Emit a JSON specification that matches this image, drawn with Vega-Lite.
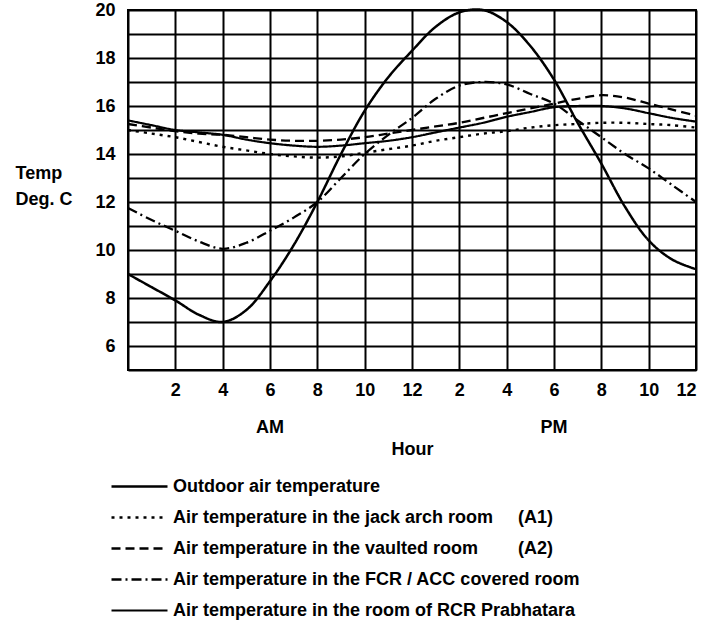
{
  "$schema": "https://vega.github.io/schema/vega-lite/v6.json",
  "width": 568,
  "height": 360,
  "autosize": {"type": "none"},
  "padding": {"left": 128, "top": 10, "right": 12, "bottom": 256},
  "background": "white",
  "config": {
    "font": "Liberation Sans",
    "view": {"stroke": "black", "strokeWidth": 2},
    "axis": {
      "labelFont": "Liberation Sans", "labelFontSize": 18, "labelFontWeight": "bold", "labelColor": "black",
      "titleFont": "Liberation Sans", "titleFontSize": 18, "titleFontWeight": "bold", "titleColor": "black",
      "gridColor": "black", "gridWidth": 2, "gridOpacity": 1, "ticks": false, "domain": false
    }
  },
  "datasets": {
    "temps": [
      {"hour": 0, "series": "Outdoor air temperature", "temp": 9.0},
      {"hour": 1, "series": "Outdoor air temperature", "temp": 8.45},
      {"hour": 2, "series": "Outdoor air temperature", "temp": 7.9},
      {"hour": 3, "series": "Outdoor air temperature", "temp": 7.3},
      {"hour": 4, "series": "Outdoor air temperature", "temp": 7.0},
      {"hour": 5, "series": "Outdoor air temperature", "temp": 7.5},
      {"hour": 6, "series": "Outdoor air temperature", "temp": 8.7},
      {"hour": 7, "series": "Outdoor air temperature", "temp": 10.2},
      {"hour": 8, "series": "Outdoor air temperature", "temp": 12.0},
      {"hour": 9, "series": "Outdoor air temperature", "temp": 14.0},
      {"hour": 10, "series": "Outdoor air temperature", "temp": 15.8},
      {"hour": 11, "series": "Outdoor air temperature", "temp": 17.2},
      {"hour": 12, "series": "Outdoor air temperature", "temp": 18.3},
      {"hour": 13, "series": "Outdoor air temperature", "temp": 19.3},
      {"hour": 14, "series": "Outdoor air temperature", "temp": 19.9},
      {"hour": 15, "series": "Outdoor air temperature", "temp": 20.0},
      {"hour": 16, "series": "Outdoor air temperature", "temp": 19.5},
      {"hour": 17, "series": "Outdoor air temperature", "temp": 18.5},
      {"hour": 18, "series": "Outdoor air temperature", "temp": 17.1},
      {"hour": 19, "series": "Outdoor air temperature", "temp": 15.3},
      {"hour": 20, "series": "Outdoor air temperature", "temp": 13.6},
      {"hour": 21, "series": "Outdoor air temperature", "temp": 11.8},
      {"hour": 22, "series": "Outdoor air temperature", "temp": 10.4},
      {"hour": 23, "series": "Outdoor air temperature", "temp": 9.6},
      {"hour": 24, "series": "Outdoor air temperature", "temp": 9.2},

      {"hour": 0, "series": "Air temperature in the jack arch room\u00a0\u00a0\u00a0\u00a0\u00a0(A1)", "temp": 15.0},
      {"hour": 1, "series": "Air temperature in the jack arch room\u00a0\u00a0\u00a0\u00a0\u00a0(A1)", "temp": 14.85},
      {"hour": 2, "series": "Air temperature in the jack arch room\u00a0\u00a0\u00a0\u00a0\u00a0(A1)", "temp": 14.7},
      {"hour": 3, "series": "Air temperature in the jack arch room\u00a0\u00a0\u00a0\u00a0\u00a0(A1)", "temp": 14.5},
      {"hour": 4, "series": "Air temperature in the jack arch room\u00a0\u00a0\u00a0\u00a0\u00a0(A1)", "temp": 14.3},
      {"hour": 5, "series": "Air temperature in the jack arch room\u00a0\u00a0\u00a0\u00a0\u00a0(A1)", "temp": 14.15},
      {"hour": 6, "series": "Air temperature in the jack arch room\u00a0\u00a0\u00a0\u00a0\u00a0(A1)", "temp": 14.0},
      {"hour": 7, "series": "Air temperature in the jack arch room\u00a0\u00a0\u00a0\u00a0\u00a0(A1)", "temp": 13.9},
      {"hour": 8, "series": "Air temperature in the jack arch room\u00a0\u00a0\u00a0\u00a0\u00a0(A1)", "temp": 13.85},
      {"hour": 9, "series": "Air temperature in the jack arch room\u00a0\u00a0\u00a0\u00a0\u00a0(A1)", "temp": 13.9},
      {"hour": 10, "series": "Air temperature in the jack arch room\u00a0\u00a0\u00a0\u00a0\u00a0(A1)", "temp": 14.05},
      {"hour": 11, "series": "Air temperature in the jack arch room\u00a0\u00a0\u00a0\u00a0\u00a0(A1)", "temp": 14.2},
      {"hour": 12, "series": "Air temperature in the jack arch room\u00a0\u00a0\u00a0\u00a0\u00a0(A1)", "temp": 14.35},
      {"hour": 13, "series": "Air temperature in the jack arch room\u00a0\u00a0\u00a0\u00a0\u00a0(A1)", "temp": 14.55},
      {"hour": 14, "series": "Air temperature in the jack arch room\u00a0\u00a0\u00a0\u00a0\u00a0(A1)", "temp": 14.7},
      {"hour": 15, "series": "Air temperature in the jack arch room\u00a0\u00a0\u00a0\u00a0\u00a0(A1)", "temp": 14.85},
      {"hour": 16, "series": "Air temperature in the jack arch room\u00a0\u00a0\u00a0\u00a0\u00a0(A1)", "temp": 14.95},
      {"hour": 17, "series": "Air temperature in the jack arch room\u00a0\u00a0\u00a0\u00a0\u00a0(A1)", "temp": 15.1},
      {"hour": 18, "series": "Air temperature in the jack arch room\u00a0\u00a0\u00a0\u00a0\u00a0(A1)", "temp": 15.2},
      {"hour": 19, "series": "Air temperature in the jack arch room\u00a0\u00a0\u00a0\u00a0\u00a0(A1)", "temp": 15.25},
      {"hour": 20, "series": "Air temperature in the jack arch room\u00a0\u00a0\u00a0\u00a0\u00a0(A1)", "temp": 15.3},
      {"hour": 21, "series": "Air temperature in the jack arch room\u00a0\u00a0\u00a0\u00a0\u00a0(A1)", "temp": 15.3},
      {"hour": 22, "series": "Air temperature in the jack arch room\u00a0\u00a0\u00a0\u00a0\u00a0(A1)", "temp": 15.25},
      {"hour": 23, "series": "Air temperature in the jack arch room\u00a0\u00a0\u00a0\u00a0\u00a0(A1)", "temp": 15.2},
      {"hour": 24, "series": "Air temperature in the jack arch room\u00a0\u00a0\u00a0\u00a0\u00a0(A1)", "temp": 15.1},

      {"hour": 0, "series": "Air temperature in the vaulted room\u00a0\u00a0\u00a0\u00a0\u00a0\u00a0\u00a0\u00a0(A2)", "temp": 15.25},
      {"hour": 1, "series": "Air temperature in the vaulted room\u00a0\u00a0\u00a0\u00a0\u00a0\u00a0\u00a0\u00a0(A2)", "temp": 15.1},
      {"hour": 2, "series": "Air temperature in the vaulted room\u00a0\u00a0\u00a0\u00a0\u00a0\u00a0\u00a0\u00a0(A2)", "temp": 14.95},
      {"hour": 3, "series": "Air temperature in the vaulted room\u00a0\u00a0\u00a0\u00a0\u00a0\u00a0\u00a0\u00a0(A2)", "temp": 14.85},
      {"hour": 4, "series": "Air temperature in the vaulted room\u00a0\u00a0\u00a0\u00a0\u00a0\u00a0\u00a0\u00a0(A2)", "temp": 14.8},
      {"hour": 5, "series": "Air temperature in the vaulted room\u00a0\u00a0\u00a0\u00a0\u00a0\u00a0\u00a0\u00a0(A2)", "temp": 14.7},
      {"hour": 6, "series": "Air temperature in the vaulted room\u00a0\u00a0\u00a0\u00a0\u00a0\u00a0\u00a0\u00a0(A2)", "temp": 14.6},
      {"hour": 7, "series": "Air temperature in the vaulted room\u00a0\u00a0\u00a0\u00a0\u00a0\u00a0\u00a0\u00a0(A2)", "temp": 14.55},
      {"hour": 8, "series": "Air temperature in the vaulted room\u00a0\u00a0\u00a0\u00a0\u00a0\u00a0\u00a0\u00a0(A2)", "temp": 14.55},
      {"hour": 9, "series": "Air temperature in the vaulted room\u00a0\u00a0\u00a0\u00a0\u00a0\u00a0\u00a0\u00a0(A2)", "temp": 14.6},
      {"hour": 10, "series": "Air temperature in the vaulted room\u00a0\u00a0\u00a0\u00a0\u00a0\u00a0\u00a0\u00a0(A2)", "temp": 14.7},
      {"hour": 11, "series": "Air temperature in the vaulted room\u00a0\u00a0\u00a0\u00a0\u00a0\u00a0\u00a0\u00a0(A2)", "temp": 14.85},
      {"hour": 12, "series": "Air temperature in the vaulted room\u00a0\u00a0\u00a0\u00a0\u00a0\u00a0\u00a0\u00a0(A2)", "temp": 15.0},
      {"hour": 13, "series": "Air temperature in the vaulted room\u00a0\u00a0\u00a0\u00a0\u00a0\u00a0\u00a0\u00a0(A2)", "temp": 15.15},
      {"hour": 14, "series": "Air temperature in the vaulted room\u00a0\u00a0\u00a0\u00a0\u00a0\u00a0\u00a0\u00a0(A2)", "temp": 15.3},
      {"hour": 15, "series": "Air temperature in the vaulted room\u00a0\u00a0\u00a0\u00a0\u00a0\u00a0\u00a0\u00a0(A2)", "temp": 15.5},
      {"hour": 16, "series": "Air temperature in the vaulted room\u00a0\u00a0\u00a0\u00a0\u00a0\u00a0\u00a0\u00a0(A2)", "temp": 15.7},
      {"hour": 17, "series": "Air temperature in the vaulted room\u00a0\u00a0\u00a0\u00a0\u00a0\u00a0\u00a0\u00a0(A2)", "temp": 15.9},
      {"hour": 18, "series": "Air temperature in the vaulted room\u00a0\u00a0\u00a0\u00a0\u00a0\u00a0\u00a0\u00a0(A2)", "temp": 16.1},
      {"hour": 19, "series": "Air temperature in the vaulted room\u00a0\u00a0\u00a0\u00a0\u00a0\u00a0\u00a0\u00a0(A2)", "temp": 16.3},
      {"hour": 20, "series": "Air temperature in the vaulted room\u00a0\u00a0\u00a0\u00a0\u00a0\u00a0\u00a0\u00a0(A2)", "temp": 16.45},
      {"hour": 21, "series": "Air temperature in the vaulted room\u00a0\u00a0\u00a0\u00a0\u00a0\u00a0\u00a0\u00a0(A2)", "temp": 16.35},
      {"hour": 22, "series": "Air temperature in the vaulted room\u00a0\u00a0\u00a0\u00a0\u00a0\u00a0\u00a0\u00a0(A2)", "temp": 16.1},
      {"hour": 23, "series": "Air temperature in the vaulted room\u00a0\u00a0\u00a0\u00a0\u00a0\u00a0\u00a0\u00a0(A2)", "temp": 15.85},
      {"hour": 24, "series": "Air temperature in the vaulted room\u00a0\u00a0\u00a0\u00a0\u00a0\u00a0\u00a0\u00a0(A2)", "temp": 15.6},

      {"hour": 0, "series": "Air temperature in the FCR / ACC covered room", "temp": 11.75},
      {"hour": 1, "series": "Air temperature in the FCR / ACC covered room", "temp": 11.25},
      {"hour": 2, "series": "Air temperature in the FCR / ACC covered room", "temp": 10.8},
      {"hour": 3, "series": "Air temperature in the FCR / ACC covered room", "temp": 10.35},
      {"hour": 4, "series": "Air temperature in the FCR / ACC covered room", "temp": 10.05},
      {"hour": 5, "series": "Air temperature in the FCR / ACC covered room", "temp": 10.3},
      {"hour": 6, "series": "Air temperature in the FCR / ACC covered room", "temp": 10.8},
      {"hour": 7, "series": "Air temperature in the FCR / ACC covered room", "temp": 11.35},
      {"hour": 8, "series": "Air temperature in the FCR / ACC covered room", "temp": 12.0},
      {"hour": 9, "series": "Air temperature in the FCR / ACC covered room", "temp": 13.0},
      {"hour": 10, "series": "Air temperature in the FCR / ACC covered room", "temp": 14.0},
      {"hour": 11, "series": "Air temperature in the FCR / ACC covered room", "temp": 14.8},
      {"hour": 12, "series": "Air temperature in the FCR / ACC covered room", "temp": 15.5},
      {"hour": 13, "series": "Air temperature in the FCR / ACC covered room", "temp": 16.3},
      {"hour": 14, "series": "Air temperature in the FCR / ACC covered room", "temp": 16.85},
      {"hour": 15, "series": "Air temperature in the FCR / ACC covered room", "temp": 17.0},
      {"hour": 16, "series": "Air temperature in the FCR / ACC covered room", "temp": 16.9},
      {"hour": 17, "series": "Air temperature in the FCR / ACC covered room", "temp": 16.5},
      {"hour": 18, "series": "Air temperature in the FCR / ACC covered room", "temp": 16.1},
      {"hour": 19, "series": "Air temperature in the FCR / ACC covered room", "temp": 15.4},
      {"hour": 20, "series": "Air temperature in the FCR / ACC covered room", "temp": 14.7},
      {"hour": 21, "series": "Air temperature in the FCR / ACC covered room", "temp": 14.0},
      {"hour": 22, "series": "Air temperature in the FCR / ACC covered room", "temp": 13.4},
      {"hour": 23, "series": "Air temperature in the FCR / ACC covered room", "temp": 12.7},
      {"hour": 24, "series": "Air temperature in the FCR / ACC covered room", "temp": 12.0},

      {"hour": 0, "series": "Air temperature in the room of RCR Prabhatara", "temp": 15.4},
      {"hour": 1, "series": "Air temperature in the room of RCR Prabhatara", "temp": 15.2},
      {"hour": 2, "series": "Air temperature in the room of RCR Prabhatara", "temp": 15.0},
      {"hour": 3, "series": "Air temperature in the room of RCR Prabhatara", "temp": 14.9},
      {"hour": 4, "series": "Air temperature in the room of RCR Prabhatara", "temp": 14.8},
      {"hour": 5, "series": "Air temperature in the room of RCR Prabhatara", "temp": 14.6},
      {"hour": 6, "series": "Air temperature in the room of RCR Prabhatara", "temp": 14.45},
      {"hour": 7, "series": "Air temperature in the room of RCR Prabhatara", "temp": 14.35},
      {"hour": 8, "series": "Air temperature in the room of RCR Prabhatara", "temp": 14.3},
      {"hour": 9, "series": "Air temperature in the room of RCR Prabhatara", "temp": 14.35},
      {"hour": 10, "series": "Air temperature in the room of RCR Prabhatara", "temp": 14.45},
      {"hour": 11, "series": "Air temperature in the room of RCR Prabhatara", "temp": 14.55},
      {"hour": 12, "series": "Air temperature in the room of RCR Prabhatara", "temp": 14.7},
      {"hour": 13, "series": "Air temperature in the room of RCR Prabhatara", "temp": 14.9},
      {"hour": 14, "series": "Air temperature in the room of RCR Prabhatara", "temp": 15.1},
      {"hour": 15, "series": "Air temperature in the room of RCR Prabhatara", "temp": 15.3},
      {"hour": 16, "series": "Air temperature in the room of RCR Prabhatara", "temp": 15.55},
      {"hour": 17, "series": "Air temperature in the room of RCR Prabhatara", "temp": 15.75},
      {"hour": 18, "series": "Air temperature in the room of RCR Prabhatara", "temp": 15.95},
      {"hour": 19, "series": "Air temperature in the room of RCR Prabhatara", "temp": 16.0},
      {"hour": 20, "series": "Air temperature in the room of RCR Prabhatara", "temp": 16.0},
      {"hour": 21, "series": "Air temperature in the room of RCR Prabhatara", "temp": 15.9},
      {"hour": 22, "series": "Air temperature in the room of RCR Prabhatara", "temp": 15.7},
      {"hour": 23, "series": "Air temperature in the room of RCR Prabhatara", "temp": 15.5},
      {"hour": 24, "series": "Air temperature in the room of RCR Prabhatara", "temp": 15.35}
    ],
    "periods": [
      {"hour": 6, "temp": 2.6, "label": "AM"},
      {"hour": 18, "temp": 2.6, "label": "PM"}
    ]
  },
  "layer": [
    {
      "data": {"name": "temps"},
      "mark": {"type": "line", "interpolate": "catmull-rom", "color": "black"},
      "encoding": {
        "x": {
          "field": "hour", "type": "quantitative",
          "scale": {"domain": [0, 24], "nice": false, "zero": false},
          "axis": {
            "values": [0, 2, 4, 6, 8, 10, 12, 14, 16, 18, 20, 22, 24],
            "tickCount": 30,
            "labelExpr": "datum.value == 0 ? '' : (datum.value > 12 ? datum.value - 12 : datum.value)",
            "labelPadding": 11,
            "labelOverlap": false,
            "title": "Hour",
            "titleY": 79,
            "titleBaseline": "middle"
          }
        },
        "y": {
          "field": "temp", "type": "quantitative",
          "scale": {"domain": [5, 20], "nice": false, "zero": false},
          "axis": {
            "values": [5, 6, 7, 8, 9, 10, 11, 12, 13, 14, 15, 16, 17, 18, 19, 20],
            "tickCount": 30,
            "format": "d",
            "labelExpr": "datum.value % 2 == 0 ? datum.label : ''",
            "labelPadding": 13,
            "labelOverlap": false,
            "title": ["Temp", "Deg. C"],
            "titleAngle": 0,
            "titleAlign": "left",
            "titleBaseline": "top",
            "titleX": -113,
            "titleY": 154,
            "titleLineHeight": 26
          }
        },
        "detail": {"field": "series"},
        "strokeDash": {
          "field": "series", "type": "nominal",
          "scale": {
            "domain": [
              "Outdoor air temperature",
              "Air temperature in the jack arch room\u00a0\u00a0\u00a0\u00a0\u00a0(A1)",
              "Air temperature in the vaulted room\u00a0\u00a0\u00a0\u00a0\u00a0\u00a0\u00a0\u00a0(A2)",
              "Air temperature in the FCR / ACC covered room",
              "Air temperature in the room of RCR Prabhatara"
            ],
            "range": [[1, 0], [3, 5], [9, 5], [10, 4, 2, 4], [1, 0]]
          },
          "legend": {
            "orient": "none",
            "legendX": -18,
            "legendY": 461,
            "title": null,
            "symbolType": "M-1,0H3",
            "symbolSize": 784,
            "symbolStrokeColor": "black",
            "symbolFillColor": "transparent",
            "symbolStrokeWidth": 2,
            "labelOffset": 32,
            "rowPadding": 6,
            "padding": 0,
            "labelFont": "Liberation Sans",
            "labelFontSize": 18,
            "labelFontWeight": "bold",
            "labelColor": "black",
            "labelLimit": 0
          }
        },
        "strokeWidth": {
          "field": "series", "type": "nominal",
          "scale": {
            "domain": [
              "Outdoor air temperature",
              "Air temperature in the jack arch room\u00a0\u00a0\u00a0\u00a0\u00a0(A1)",
              "Air temperature in the vaulted room\u00a0\u00a0\u00a0\u00a0\u00a0\u00a0\u00a0\u00a0(A2)",
              "Air temperature in the FCR / ACC covered room",
              "Air temperature in the room of RCR Prabhatara"
            ],
            "range": [2.5, 2.2, 2, 2, 1.6]
          },
          "legend": null
        }
      }
    },
    {
      "data": {"name": "periods"},
      "mark": {"type": "text", "font": "Liberation Sans", "fontSize": 18, "fontWeight": "bold", "color": "black", "baseline": "middle", "align": "center"},
      "encoding": {
        "x": {"field": "hour", "type": "quantitative"},
        "y": {"field": "temp", "type": "quantitative"},
        "text": {"field": "label"}
      }
    }
  ]
}
